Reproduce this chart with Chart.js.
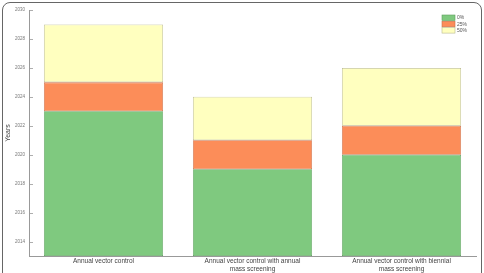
<html lang="en">
<head>
<meta charset="UTF-8">
<style>
  body { margin: 0; background: #fff; }
  .frame {
    position: absolute; left: 2px; top: 2px;
    width: 478px; height: 282px;
    border: 1.5px solid #666; border-radius: 8px;
  }
  .wrap { position: absolute; left: 0; top: 0; width: 484px; height: 273px; }
</style>
<script src="https://cdn.jsdelivr.net/npm/chart.js"></script>
</head>
<body>
<div class="frame"></div>
<div class="wrap"><canvas id="c" width="484" height="273"></canvas></div>
<script>
// scenarios and the year reached for each coverage level
const categories = [
  "Annual vector control",
  ["Annual vector control with annual", "mass screening"],
  ["Annual vector control with biennial", "mass screening"]
];
const seriesNames = ["0%", "25%", "50%"];
const baseYear = 2013;
const year0 = [2023, 2019, 2020];
const year25 = [2025, 2021, 2022];
const year50 = [2029, 2024, 2026];
const yTicks = [2014, 2016, 2018, 2020, 2022, 2024, 2026, 2028, 2030];

const fills = ["#7fc97f", "#fc8d59", "#ffffbf"];
const edges = ["#5e9e5e", "#c9704a", "#b8b890"];

// floating bars: each segment runs from the previous level to the next
const seg0 = year0.map(v => [baseYear, v]);
const seg25 = year25.map((v, i) => [year0[i], v]);
const seg50 = year50.map((v, i) => [year25[i], v]);

const insideLegend = {
  id: "insideLegend",
  afterDraw(chart) {
    const ctx = chart.ctx;
    const x = 442, y = 15;
    ctx.save();
    ctx.font = "5px Arial";
    ctx.textBaseline = "middle";
    chart.data.datasets.forEach((ds, i) => {
      const yy = y + i * 6.3;
      ctx.fillStyle = ds.backgroundColor;
      ctx.strokeStyle = ds.borderColor;
      ctx.lineWidth = 0.6;
      ctx.fillRect(x, yy, 13, 5.5);
      ctx.strokeRect(x, yy, 13, 5.5);
      ctx.fillStyle = "#555";
      ctx.fillText(ds.label, x + 15, yy + 3);
    });
    ctx.restore();
  }
};

const innerTicks = {
  id: "innerTicks",
  afterDraw(chart) {
    const ctx = chart.ctx;
    const ys = chart.scales.y;
    ctx.save();
    ctx.strokeStyle = "#999";
    ctx.lineWidth = 0.8;
    yTicks.forEach(t => {
      const p = Math.round(ys.getPixelForValue(t)) + 0.5;
      ctx.beginPath();
      ctx.moveTo(ys.right, p);
      ctx.lineTo(ys.right + 4, p);
      ctx.stroke();
    });
    ctx.restore();
  }
};

new Chart(document.getElementById("c"), {
  type: "bar",
  data: {
    labels: categories,
    datasets: [
      { label: seriesNames[0], data: seg0, backgroundColor: fills[0], borderColor: edges[0], borderWidth: 0.8, borderSkipped: false },
      { label: seriesNames[1], data: seg25, backgroundColor: fills[1], borderColor: edges[1], borderWidth: 0.8, borderSkipped: false },
      { label: seriesNames[2], data: seg50, backgroundColor: fills[2], borderColor: edges[2], borderWidth: 0.8, borderSkipped: false }
    ]
  },
  options: {
    responsive: false,
    animation: false,
    layout: { padding: { left: 2, right: 8, top: 10, bottom: 0 } },
    plugins: { legend: { display: false }, tooltip: { enabled: false } },
    datasets: { bar: { barPercentage: 0.8, categoryPercentage: 1.0 } },
    scales: {
      x: {
        stacked: true,
        afterFit(scale) { scale.height = 17; },
        grid: { display: false, drawTicks: false },
        border: { color: "#999", width: 1 },
        ticks: { color: "#444", font: { size: 6.5, family: "Arial", lineHeight: 1.1 }, padding: 2, maxRotation: 0, autoSkip: false }
      },
      y: {
        min: baseYear, max: 2030,
        afterBuildTicks(scale) { scale.ticks = yTicks.map(v => ({ value: v })); },
        afterFit(scale) { scale.width = 27; },
        grid: { display: false, drawTicks: false },
        border: { color: "#999", width: 1 },
        title: { display: true, text: "Years", color: "#444", font: { size: 7, family: "Arial" }, padding: 2 },
        ticks: { color: "#777", font: { size: 4.5, family: "Arial" }, padding: 4, callback: v => String(v) }
      }
    }
  },
  plugins: [insideLegend, innerTicks]
});
</script>
</body>
</html>
